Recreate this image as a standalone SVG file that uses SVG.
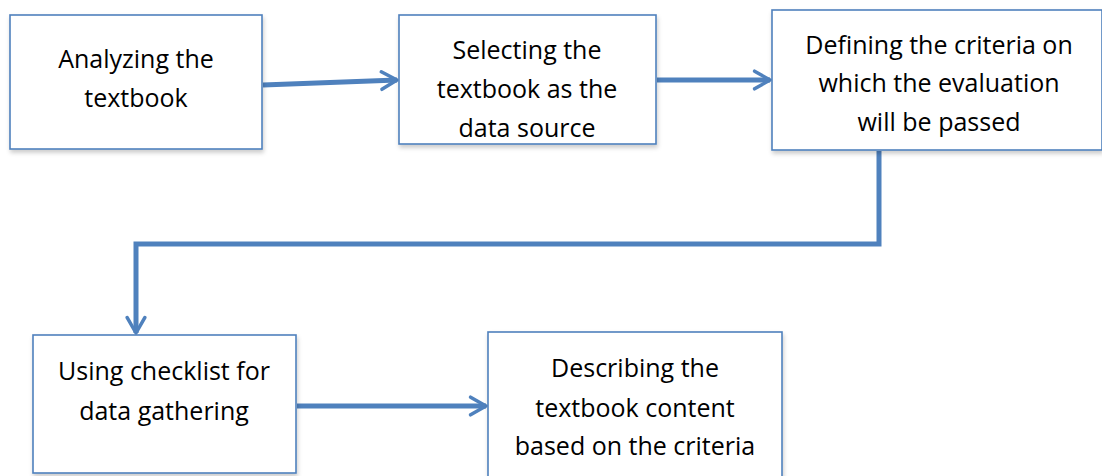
<svg xmlns="http://www.w3.org/2000/svg" width="1102" height="476" viewBox="0 0 1102 476">
<style>
.box{fill:#fff;stroke:#4F81BD;stroke-width:1.6;filter:url(#sh)}
.t{font-family:"Open Sans","Liberation Sans",sans-serif;font-size:25px;fill:#000;text-anchor:middle}
.c{fill:none;stroke:#4F81BD;stroke-width:5;stroke-linejoin:miter}
</style>
<defs>
<filter id="sh" x="-5%" y="-5%" width="115%" height="120%">
<feDropShadow dx="1" dy="3" stdDeviation="2" flood-color="#000" flood-opacity="0.2"/>
</filter>
<marker id="ah" viewBox="0 0 10 10" refX="9" refY="5" markerWidth="4.4" markerHeight="4.4" orient="auto" markerUnits="strokeWidth">
<path d="M2,1 L9,5 L2,9" fill="none" stroke="#4F81BD" stroke-width="1.6" stroke-linecap="round" stroke-linejoin="round"/>
</marker>
</defs>
<g id="connectors">
<path class="c" d="M263,85 L397,80" marker-end="url(#ah)"/>
<path class="c" d="M657,80 L770,80" marker-end="url(#ah)"/>
<path class="c" d="M879,151 L879,244 L136,244 L136,333" marker-end="url(#ah)"/>
<path class="c" d="M297,406 L486,406" marker-end="url(#ah)"/>
</g>
<g id="n1"><rect class="box" x="10" y="15" width="252" height="134"/>
<text class="t" x="136" y="68">Analyzing the</text><text class="t" x="136" y="107">textbook</text></g>
<g id="n2"><rect class="box" x="399" y="15" width="257" height="129"/>
<text class="t" x="527" y="59">Selecting the</text><text class="t" x="527" y="98">textbook as the</text><text class="t" x="527" y="137">data source</text></g>
<g id="n3"><rect class="box" x="772" y="10" width="330" height="140"/>
<text class="t" x="939" y="54">Defining the criteria on</text><text class="t" x="939" y="92">which the evaluation</text><text class="t" x="939" y="131">will be passed</text></g>
<g id="n4"><rect class="box" x="33" y="335" width="263" height="138"/>
<text class="t" x="164" y="380">Using checklist for</text><text class="t" x="164" y="420">data gathering</text></g>
<g id="n5"><rect class="box" x="488" y="332" width="294" height="150"/>
<text class="t" x="635" y="377">Describing the</text><text class="t" x="635" y="417">textbook content</text><text class="t" x="635" y="455">based on the criteria</text></g>
</svg>
